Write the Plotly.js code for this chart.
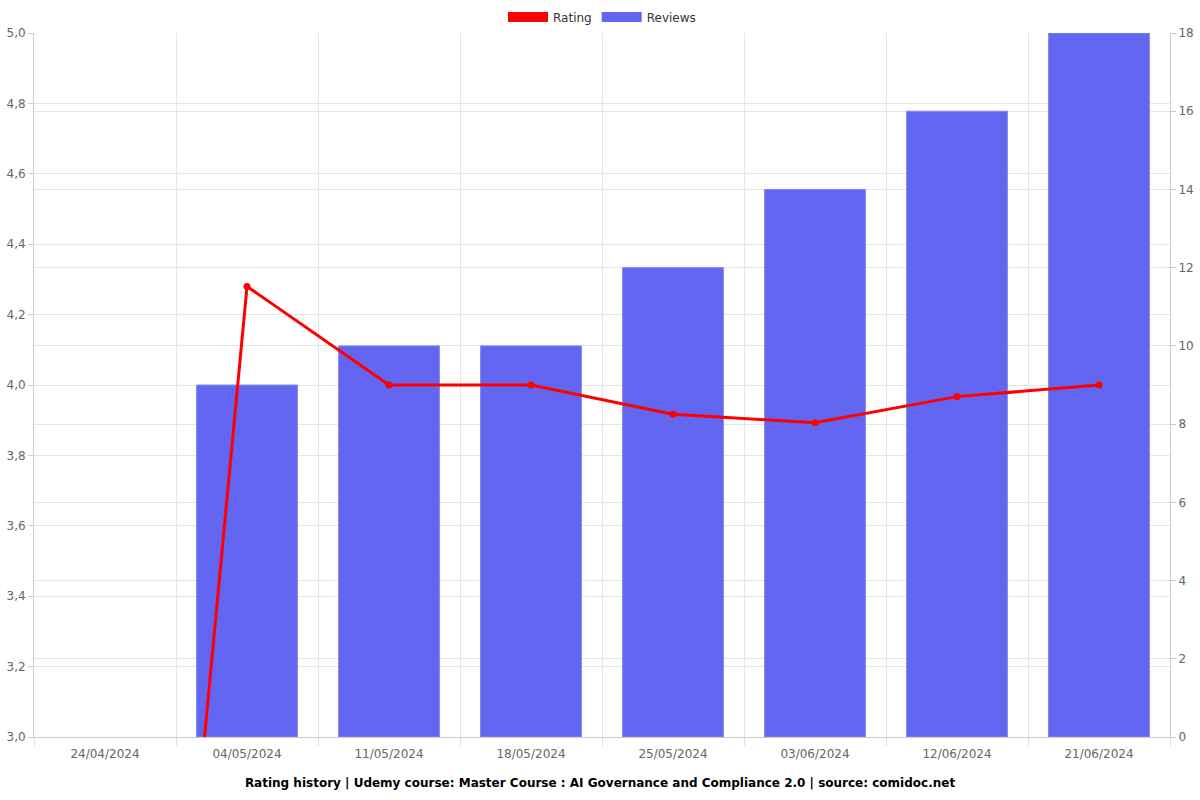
<!DOCTYPE html>
<html>
<head>
<meta charset="utf-8">
<script src="https://cdn.plot.ly/plotly-3.0.1.min.js"></script>
<style>html,body{margin:0;padding:0;background:#fff}#chart{width:1200px;height:800px}</style>
</head>
<body>
<div id="chart"></div>
<script>
const categories = ["24/04/2024","04/05/2024","11/05/2024","18/05/2024","25/05/2024","03/06/2024","12/06/2024","21/06/2024"];
const ratingValues = [0, 4.28, 4.0, 4.0, 3.917, 3.893, 3.967, 4.0];
const reviewValues = [null, 9, 10, 10, 12, 14, 16, 18];
const titleText = "Rating history | Udemy course: Master Course : AI Governance and Compliance 2.0 | source: comidoc.net";

const font = "DejaVu Sans, sans-serif";
const traces = [
  {
    type: "bar", name: "Reviews", x: categories, y: reviewValues, yaxis: "y",
    marker: {color: "#6366F1", line: {color: "#8587f4", width: 1}},
    width: 0.71, showlegend: false, hoverinfo: "skip"
  },
  {
    type: "scatter", mode: "lines+markers", name: "Rating", x: categories, y: ratingValues, yaxis: "y2",
    line: {color: "#ff0000", width: 3}, marker: {color: "#ff0000", size: 7},
    showlegend: false, cliponaxis: true
  },
  {
    type: "scatter", mode: "lines", name: "Rating", x: [categories[0]], y: [null], yaxis: "y2",
    line: {color: "#ff0000", width: 14}, hoverinfo: "skip"
  },
  {
    type: "scatter", mode: "lines", name: "Reviews", x: [categories[0]], y: [null], yaxis: "y2",
    line: {color: "#6366F1", width: 14}, hoverinfo: "skip"
  }
];

const layout = {
  width: 1200, height: 800,
  margin: {l: 34, r: 30, t: 33, b: 63},
  paper_bgcolor: "#fff", plot_bgcolor: "#fff",
  separators: ",.",
  font: {family: font, size: 12, color: "#666"},
  showlegend: true,
  legend: {orientation: "h", x: 0.5, xanchor: "center", y: 0.997, yref: "container", yanchor: "top",
           font: {family: font, size: 12, color: "#333"}, traceorder: "normal", itemwidth: 40},
  title: {text: titleText, font: {family: font, size: 12, color: "#000", weight: "bold"},
          x: 0.5, xanchor: "center", yref: "container", y: 17/800, yanchor: "middle"},
  xaxis: {
    type: "category", categoryorder: "array", categoryarray: categories,
    tickson: "boundaries", ticks: "outside", ticklen: 8, tickcolor: "#e0e0e0",
    ticklabelstandoff: 6,
    showgrid: true, gridcolor: "#e5e5e5", showline: true, linecolor: "#ccc",
    tickfont: {family: font, size: 12, color: "#666"}, fixedrange: true
  },
  yaxis: {
    side: "right", range: [0, 18], dtick: 2, ticks: "outside", ticklen: 5, tickcolor: "#ccc",
    showgrid: true, gridcolor: "#e5e5e5", showline: true, linecolor: "#ccc", zeroline: false,
    tickfont: {family: font, size: 12, color: "#666"}
  },
  yaxis2: {
    overlaying: "y", side: "left", range: [3, 5], dtick: 0.2, tickformat: ".1f",
    ticks: "outside", ticklen: 5, tickcolor: "#ccc",
    showgrid: true, gridcolor: "#e5e5e5", showline: true, linecolor: "#ccc", zeroline: false,
    tickfont: {family: font, size: 12, color: "#666"}
  }
};

Plotly.newPlot("chart", traces, layout, {displayModeBar: false, staticPlot: true});
</script>
</body>
</html>
